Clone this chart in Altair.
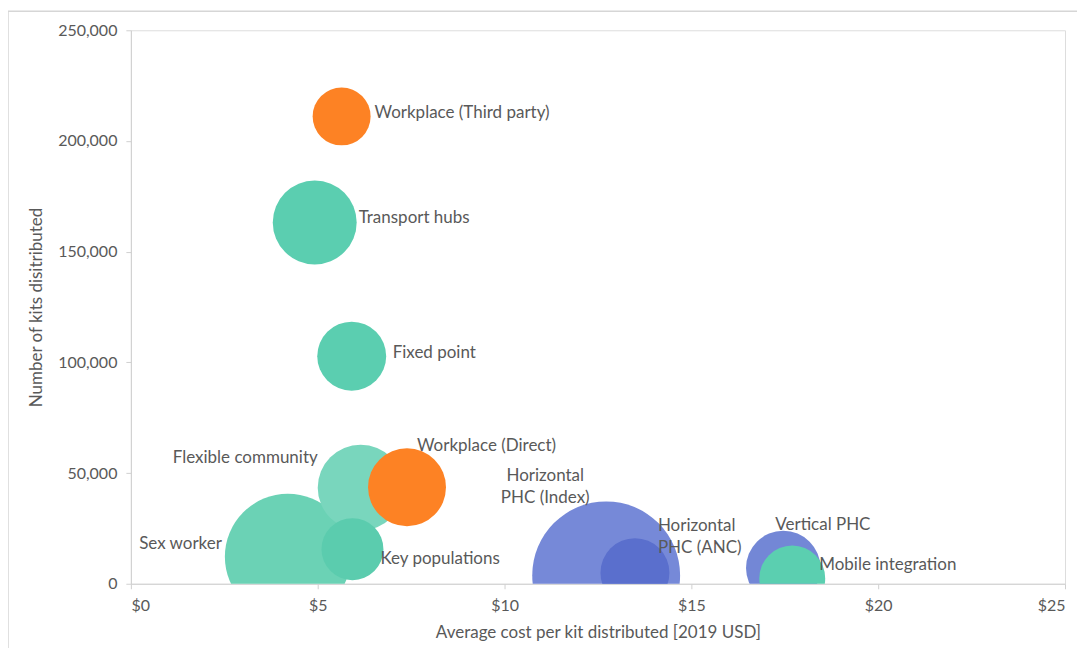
import altair as alt
import pandas as pd

# ---- data ----
names = [
    "Sex worker", "Flexible community", "Key populations", "Workplace (Direct)",
    "Transport hubs", "Fixed point", "Workplace (Third party)",
    "Horizontal PHC (Index)", "Horizontal PHC (ANC)", "Vertical PHC", "Mobile integration",
]
cost_per_kit = [4.2, 6.15, 5.93, 7.39, 4.92, 5.91, 5.64, 12.72, 13.49, 17.46, 17.7]
kits_distributed = [12200, 43400, 15600, 43600, 163200, 102800, 211100, 3800, 5000, 7100, 2400]
bubble_size = [3969, 1849, 961, 1521, 1764, 1190, 841, 5476, 1190, 1391, 1089]

x_ticks = [0, 5, 10, 15, 20, 25]
y_ticks = [0, 50000, 100000, 150000, 200000, 250000]

df = pd.DataFrame({
    "name": names,
    "cost": cost_per_kit,
    "kits": kits_distributed,
    "bubble": bubble_size,
    "idx": list(range(len(names))),
})

# ---- styles ----
palette = {
    "Sex worker": "#6BD2B5",
    "Flexible community": "#79D6BD",
    "Key populations": "#5BCCAE",
    "Workplace (Direct)": "#FD8224",
    "Transport hubs": "#5BCEB0",
    "Fixed point": "#5BCEB0",
    "Workplace (Third party)": "#FD8224",
    "Horizontal PHC (Index)": "#7689D8",
    "Horizontal PHC (ANC)": "#5A6FCD",
    "Vertical PHC": "#7387D6",
    "Mobile integration": "#5BCFB0",
}
FONT = "Lato"
TXT = "#595959"
W, H = 935, 554
max_r = 74.0  # pixel radius of the largest bubble (Vega symbol size = (2r)^2)

xs = alt.Scale(domain=[0, 25], nice=False, zero=True)
ys = alt.Scale(domain=[0, 250000], nice=False, zero=True)

x_enc = alt.X("cost:Q", scale=xs, axis=alt.Axis(
    values=x_ticks, labelExpr="'$' + datum.value", title="Average cost per kit distributed [2019 USD]",
    grid=False, domainColor="#D0D0D0", tickColor="#D0D0D0", tickSize=5,
    labelFont=FONT, labelFontSize=16, labelColor=TXT, labelPadding=9,
    titleFont=FONT, titleFontSize=17, titleFontWeight="normal", titleColor=TXT, titlePadding=11,
))
y_enc = alt.Y("kits:Q", scale=ys, axis=alt.Axis(
    values=y_ticks, format=",.0f", title="Number of kits disitributed",
    grid=False, domainColor="#D0D0D0", tickColor="#D0D0D0", tickSize=5,
    labelFont=FONT, labelFontSize=16, labelColor=TXT, labelPadding=9,
    titleFont=FONT, titleFontSize=17, titleFontWeight="normal", titleColor=TXT, titlePadding=12,
))

base = alt.Chart(df)

frame = base.transform_filter("datum.idx == 0").mark_rect(
    fill=None, stroke="#D6D6D6", strokeWidth=1.5
).encode(x=alt.value(-123), x2=alt.value(1000), y=alt.value(-19), y2=alt.value(700))

bubbles = base.mark_circle(opacity=1, clip=True, stroke=None).encode(
    x=x_enc,
    y=y_enc,
    size=alt.Size("bubble:Q", scale=alt.Scale(domain=[0, max(bubble_size)],
                                              range=[0, 4 * max_r ** 2]), legend=None),
    color=alt.Color("name:N", scale=alt.Scale(domain=list(palette.keys()),
                                              range=list(palette.values())), legend=None),
    order=alt.Order("idx:Q"),
)

# label placement (offsets from bubble centre, in pixels)
label_style = {
    "Workplace (Third party)": ("left", 33, -3),
    "Transport hubs": ("left", 44, -4),
    "Fixed point": ("left", 41, -3),
    "Flexible community": ("right", -43, -30),
    "Workplace (Direct)": ("left", 10, -41),
    "Sex worker": ("right", -66, -13),
    "Key populations": ("left", 28, 10),
    "Horizontal PHC (Index)": ("center", -61, -99),
    "Horizontal PHC (ANC)": ("left", 23, -47),
    "Vertical PHC": ("left", -8, -43),
    "Mobile integration": ("left", 27, -13),
}
label_text = {
    "Horizontal PHC (Index)": "Horizontal\nPHC (Index)",
    "Horizontal PHC (ANC)": "Horizontal\nPHC (ANC)",
}

layers = [frame, bubbles]
for nm, (al, dx, dy) in label_style.items():
    txt = label_text.get(nm, nm)
    layers.append(
        base.transform_filter(alt.datum.name == nm).mark_text(
            align=al, baseline="middle", dx=dx, dy=dy, font=FONT, fontSize=17,
            color=TXT, lineBreak="\n", lineHeight=22, text=txt,
        ).encode(x=alt.X("cost:Q", scale=xs), y=alt.Y("kits:Q", scale=ys))
    )

chart = alt.layer(*layers).properties(
    width=W, height=H,
    autosize=alt.AutoSizeParams(type="none"),
    padding={"left": 123, "top": 22, "right": 12, "bottom": 64},
).configure_view(stroke=None).configure(background="white")

chart.save("out.html", embed_options={"renderer": "svg", "actions": False})
